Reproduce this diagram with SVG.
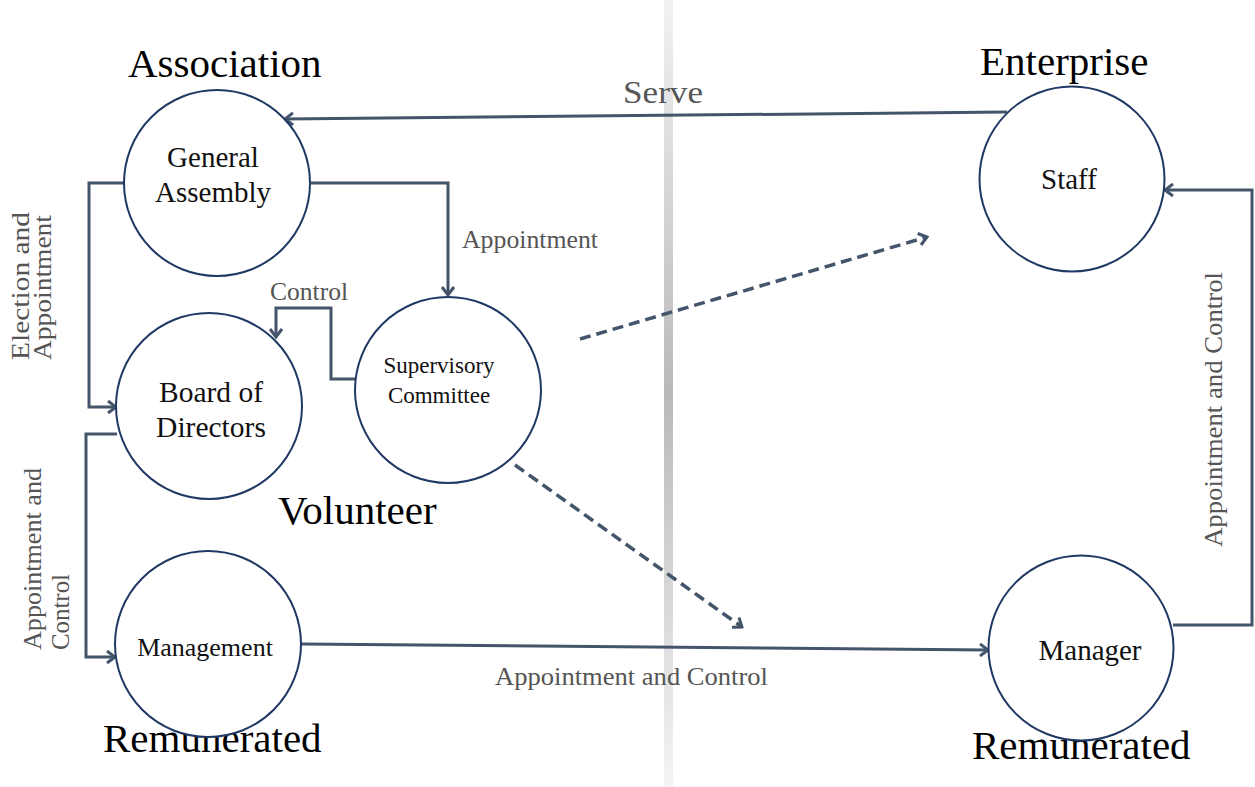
<svg xmlns="http://www.w3.org/2000/svg" width="1255" height="787" viewBox="0 0 1255 787">
  <style>
    .node { fill: #ffffff; stroke: #1f3864; stroke-width: 2; }
    .ntext { font-family: "Liberation Serif", "Times New Roman", serif; fill: #111111; text-anchor: middle; }
    .head { font-family: "Liberation Serif", "Times New Roman", serif; font-size: 41px; fill: #000000; }
    .lbl { font-family: "Liberation Serif", "Times New Roman", serif; fill: #555555; }
    .conn { fill: none; stroke: #44546a; stroke-width: 3; }
    .dash { fill: none; stroke: #44546a; stroke-width: 3.5; stroke-dasharray: 11 6; }
  </style>
  <defs>
    <marker id="arrow" markerWidth="12" markerHeight="14" refX="10" refY="7" orient="auto" markerUnits="userSpaceOnUse">
      <path d="M2,1 L10,7 L2,13" fill="none" stroke="#44546a" stroke-width="3"/>
    </marker>
    <linearGradient id="divider" x1="0" y1="0" x2="0" y2="1">
      <stop offset="0" stop-color="#f2f2f2"/>
      <stop offset="0.5" stop-color="#b9b9b9"/>
      <stop offset="1" stop-color="#f4f4f4"/>
    </linearGradient>
  </defs>

  <rect width="1255" height="787" fill="#ffffff"/>

  <!-- central divider between association and enterprise sides -->
  <rect x="664" y="0" width="9" height="787" fill="url(#divider)"/>

  <!-- side headings -->
  <text class="head" x="128" y="77">Association</text>
  <text class="head" x="980" y="75">Enterprise</text>
  <text class="head" x="278" y="524">Volunteer</text>
  <text class="head" x="103" y="752">Remunerated</text>
  <text class="head" x="972" y="759">Remunerated</text>

  <g id="connectors">
    <!-- Staff serves General Assembly -->
    <path class="conn" d="M1007,112 L285,119" marker-end="url(#arrow)"/>
    <!-- General Assembly elects Board -->
    <path class="conn" d="M124,183 L89,183 L89,407 L116,407" marker-end="url(#arrow)"/>
    <!-- General Assembly appoints Supervisory Committee -->
    <path class="conn" d="M310,183 L448,183 L448,295" marker-end="url(#arrow)"/>
    <!-- Supervisory Committee controls Board -->
    <path class="conn" d="M358,379 L331,379 L331,308 L276,308 L276,337" marker-end="url(#arrow)"/>
    <!-- Board appoints Management -->
    <path class="conn" d="M117,434 L86,434 L86,657 L115,657" marker-end="url(#arrow)"/>
    <!-- Management appoints Manager -->
    <path class="conn" d="M301,644 L988,650" marker-end="url(#arrow)"/>
    <!-- Manager appoints Staff -->
    <path class="conn" d="M1173,625 L1252,625 L1252,190 L1165,190" marker-end="url(#arrow)"/>
    <!-- correspondence across the divider -->
    <path class="dash" d="M580,339 L927,237" marker-end="url(#arrow)"/>
    <path class="dash" d="M515,465 L742,627" marker-end="url(#arrow)"/>
  </g>

  <!-- connector labels -->
  <text class="lbl" x="623" y="103" font-size="31" textLength="80" lengthAdjust="spacingAndGlyphs">Serve</text>
  <text class="lbl" x="462" y="248" font-size="25" textLength="136" lengthAdjust="spacingAndGlyphs">Appointment</text>
  <text class="lbl" x="270" y="300" font-size="25" textLength="78" lengthAdjust="spacingAndGlyphs">Control</text>
  <text class="lbl" x="495" y="685" font-size="25" textLength="273" lengthAdjust="spacingAndGlyphs">Appointment and Control</text>
  <text class="lbl" font-size="26" transform="translate(29,360) rotate(-90)" textLength="148" lengthAdjust="spacingAndGlyphs">Election and</text>
  <text class="lbl" font-size="26" transform="translate(51,360) rotate(-90)" textLength="145" lengthAdjust="spacingAndGlyphs">Appointment</text>
  <text class="lbl" font-size="26" transform="translate(41,650) rotate(-90)" textLength="182" lengthAdjust="spacingAndGlyphs">Appointment and</text>
  <text class="lbl" font-size="26" transform="translate(69,650) rotate(-90)" textLength="76" lengthAdjust="spacingAndGlyphs">Control</text>
  <text class="lbl" font-size="26" transform="translate(1222,547) rotate(-90)" textLength="275" lengthAdjust="spacingAndGlyphs">Appointment and Control</text>

  <g id="general-assembly">
    <circle class="node" cx="217" cy="183" r="93"/>
    <text class="ntext" x="213" y="167" font-size="29">General</text>
    <text class="ntext" x="213" y="202" font-size="29">Assembly</text>
  </g>
  <g id="board-of-directors">
    <circle class="node" cx="209" cy="406" r="93"/>
    <text class="ntext" x="211" y="402" font-size="29.5">Board of</text>
    <text class="ntext" x="211" y="437" font-size="29.5">Directors</text>
  </g>
  <g id="supervisory-committee">
    <circle class="node" cx="448" cy="390" r="93"/>
    <text class="ntext" x="439" y="373" font-size="23">Supervisory</text>
    <text class="ntext" x="439" y="403" font-size="23">Committee</text>
  </g>
  <g id="management">
    <circle class="node" cx="208" cy="644" r="93"/>
    <text class="ntext" x="205" y="656" font-size="26">Management</text>
  </g>
  <g id="staff">
    <circle class="node" cx="1072" cy="179" r="92.5"/>
    <text class="ntext" x="1069" y="189" font-size="29">Staff</text>
  </g>
  <g id="manager">
    <circle class="node" cx="1081" cy="648" r="92.5"/>
    <text class="ntext" x="1090" y="660" font-size="29">Manager</text>
  </g>
</svg>
